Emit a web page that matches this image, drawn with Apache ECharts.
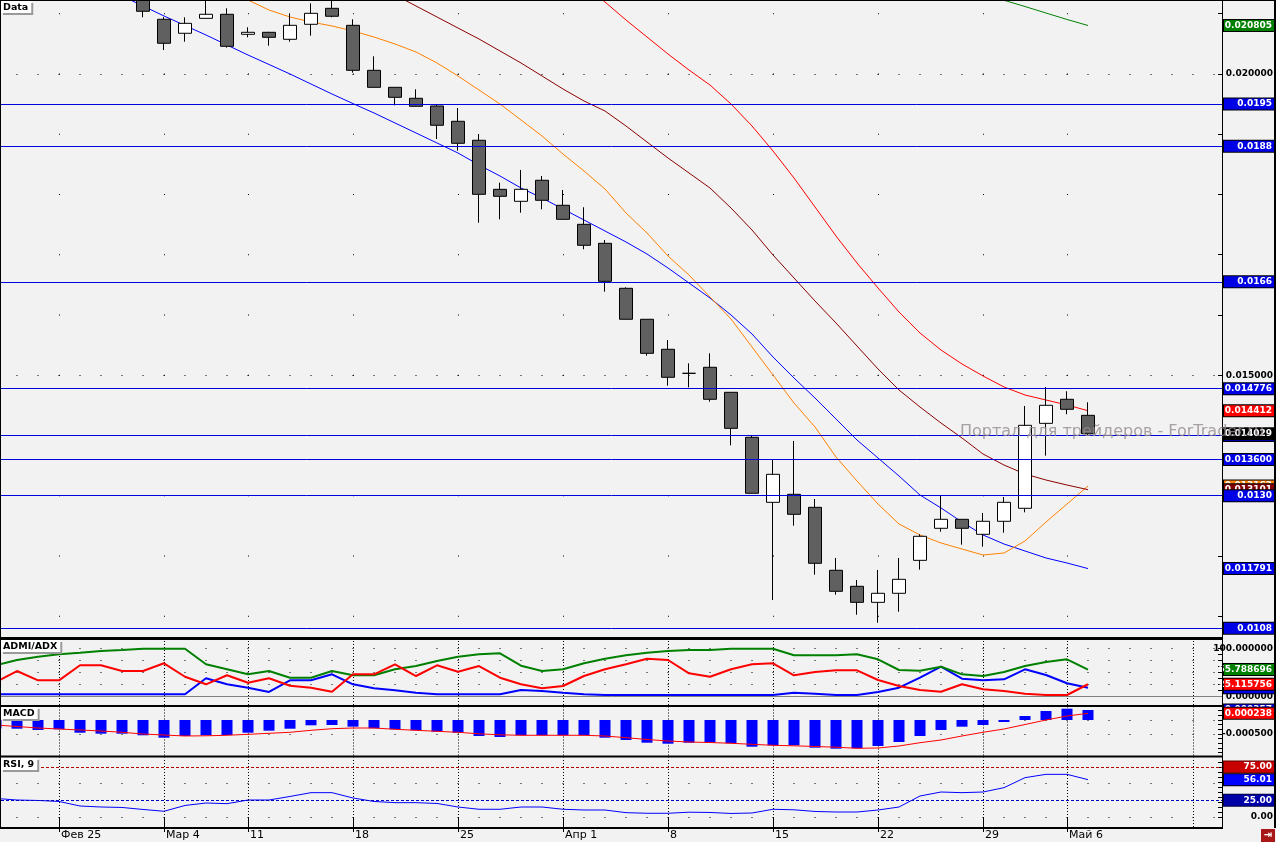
<!DOCTYPE html>
<html><head><meta charset="utf-8">
<script src="https://cdn.jsdelivr.net/npm/echarts@6/dist/echarts.min.js"></script>
<style>html,body{margin:0;padding:0;background:#f2f2f2}#c{width:1276px;height:842px}</style>
</head><body><div id="c"></div>
<script>
// ---------- DATA ----------
const dates = ['02-20','02-21','02-22','02-25','02-26','02-27','02-28','03-01','03-04','03-05','03-06','03-07','03-11','03-12','03-13','03-14','03-15','03-18','03-19','03-20','03-21','03-22','03-25','03-26','03-27','03-28','03-29','04-01','04-02','04-03','04-04','04-05','04-08','04-09','04-10','04-11','04-12','04-15','04-16','04-17','04-18','04-19','04-22','04-23','04-24','04-25','04-26','04-29','04-30','05-02','05-03','05-06','05-07'];
const tickDates = ['02-25','03-04','03-11','03-18','03-25','04-01','04-08','04-15','04-22','04-29','05-06'];
const tickLabels = ['Фев 25','Мар 4','11','18','25','Апр 1','8','15','22','29','Май 6'];

const open = [null,null,null,null,null,null,null,
0.021330,0.020908,0.020676,0.020924,0.020991,0.020659,0.020692,0.020576,0.020825,0.021090,
0.020808,0.020061,0.019779,0.019597,0.019469,0.019215,0.018900,0.018086,0.017887,0.018236,
0.017821,0.017505,0.017190,0.016443,0.015929,0.015431,0.015032,0.015132,0.014717,0.013970,
0.012891,0.013024,0.012808,0.011763,0.011497,0.011231,0.011381,0.011928,0.012460,0.012609,
0.012360,0.012576,0.012792,0.014202,0.014601,0.014335];
const close = [null,null,null,null,null,null,null,
0.021041,0.020510,0.020841,0.020991,0.020460,0.020692,0.020609,0.020808,0.021007,0.020958,
0.020061,0.019779,0.019613,0.019464,0.019149,0.018850,0.018003,0.017970,0.018086,0.017904,
0.017588,0.017157,0.016559,0.015929,0.015364,0.014966,0.015032,0.014601,0.014119,0.013041,
0.013356,0.012692,0.011879,0.011414,0.011231,0.011381,0.011613,0.012327,0.012609,0.012460,
0.012576,0.012891,0.014169,0.014501,0.014435,0.014029];
const low = [null,null,null,null,null,null,null,
0.020941,0.020398,0.020536,0.020921,0.020437,0.020609,0.020470,0.020536,0.020636,0.020941,
0.020022,0.019776,0.019480,0.019461,0.018921,0.018727,0.017532,0.017588,0.017698,0.017754,
0.017585,0.017090,0.016387,0.015925,0.015324,0.014827,0.014800,0.014561,0.013837,0.013037,
0.011270,0.012503,0.011690,0.011358,0.011026,0.010893,0.011075,0.011773,0.012403,0.012188,
0.012154,0.012387,0.012725,0.013665,0.014352,0.014010];
const high = [null,null,null,null,null,null,null,
0.021450,0.020946,0.020941,0.021278,0.021090,0.020775,0.020700,0.021007,0.021173,0.021261,
0.020908,0.020294,0.019779,0.019746,0.019485,0.019436,0.019004,0.018196,0.018407,0.018307,
0.018075,0.017788,0.017245,0.016460,0.015929,0.015585,0.015198,0.015364,0.014717,0.013992,
0.013593,0.013909,0.012946,0.011967,0.011602,0.011768,0.011967,0.012360,0.013007,0.012614,
0.012714,0.012979,0.014490,0.014805,0.014734,0.014551];

const maBlue = [null,null,null,null,null,null,
0.021295,0.021129,0.020963,0.020805,0.020647,0.020481,0.020315,0.020158,0.020000,0.019834,
0.019668,0.019509,0.019353,0.019187,0.019021,0.018855,0.018689,0.018490,0.018307,0.018108,
0.017942,0.017759,0.017577,0.017394,0.017212,0.017012,0.016780,0.016531,0.016282,0.016000,
0.015685,0.015303,0.014954,0.014622,0.014274,0.013925,0.013627,0.013328,0.013012,0.012797,
0.012564,0.012349,0.012199,0.012083,0.011967,0.011884,0.011791];
const maOrange = [null,null,null,null,null,null,null,null,null,null,null,
0.021344,0.021228,0.021062,0.020946,0.020863,0.020797,0.020714,0.020614,0.020498,0.020365,
0.020183,0.019967,0.019734,0.019502,0.019237,0.018971,0.018672,0.018390,0.018091,0.017693,
0.017361,0.016979,0.016664,0.016299,0.015934,0.015469,0.015004,0.014539,0.014141,0.013643,
0.013245,0.012863,0.012531,0.012349,0.012216,0.012116,0.012017,0.012050,0.012249,0.012564,
0.012863,0.013162];
const maDarkRed = [null,null,null,null,null,null,null,null,null,null,null,null,null,null,null,null,null,null,null,
0.021311,0.021129,0.020946,0.020763,0.020581,0.020382,0.020183,0.019967,0.019751,0.019552,
0.019386,0.019137,0.018871,0.018606,0.018357,0.018108,0.017776,0.017411,0.016996,0.016614,
0.016232,0.015867,0.015485,0.015104,0.014755,0.014473,0.014207,0.013958,0.013693,0.013510,
0.013361,0.013261,0.013178,0.013101];
const maRed = [null,null,null,null,null,null,null,null,null,null,null,null,null,null,null,null,null,null,null,null,null,null,null,null,null,null,null,null,
0.021477,0.021195,0.020896,0.020614,0.020332,0.020066,0.019817,0.019502,0.019137,0.018722,
0.018274,0.017793,0.017311,0.016863,0.016448,0.016050,0.015701,0.015419,0.015187,0.014988,
0.014805,0.014672,0.014589,0.014506,0.014412];
const maGreen = [null,null,null,null,null,null,null,null,null,null,null,null,null,null,null,null,null,null,null,null,null,null,null,null,null,null,null,null,null,null,null,null,null,null,null,null,null,null,null,null,null,null,null,null,null,null,null,
0.021328,0.021224,0.021120,0.021012,0.020905,0.020805];

const levelValues = [0.0195, 0.0188, 0.01655, 0.014776, 0.0140, 0.0136, 0.0130, 0.0108];
const levelLabels = ['0.0195','0.0188','0.0166','0.014776','0.0140','0.013600','0.0130','0.0108'];

const adxMain = [64.6,75.6,82.5,87.5,90.8,94.4,96.5,99.2,99.2,99.2,
66.7,56.3,45.8,52.7,38.8,38.8,52.7,43.8,43.8,56.3,
63.1,73.5,82.5,87.5,89.6,63.8,52.7,56.3,68.8,78.3,
85.4,90.8,94.4,96.5,96.5,99.2,99.2,99.2,85.4,85.4,
85.4,87.5,77.1,54.8,53.3,61.7,45.8,42.3,50.6,63.1,
71.5,77.1,55.788696];
const diMinus = [29.8,52.7,33.3,33.3,64.6,64.6,52.7,52.7,68.8,40.8,
25.0,43.8,28.3,37.5,22.0,17.9,9.6,45.8,45.8,66.7,
42.3,64.6,51.3,63.1,38.8,25.0,16.7,21.5,42.3,56.3,
66.7,78.3,75.6,47.9,40.8,56.3,66.7,68.8,43.8,50.6,
54.2,54.2,34.0,21.5,13.1,9.6,25.0,14.6,11.0,5.4,
2.7,2.7,25.115756];
const diPlus = [4.2,4.2,4.2,4.2,4.2,4.2,4.2,4.2,4.2,4.2,
37.5,25.0,17.9,9.0,33.3,33.3,45.8,25.0,16.7,12.5,
7.5,4.2,4.2,4.2,4.2,13.1,11.0,7.5,4.2,2.7,
2.7,2.7,2.7,2.7,2.7,2.7,2.7,2.7,7.5,5.4,
2.7,2.7,9.0,17.9,38.8,61.7,36.7,33.3,35.4,56.3,
44.4,27.1,17.9];

const macdHist = [-0.000300,-0.000311,-0.000357,-0.000332,-0.000454,-0.000489,-0.000489,-0.000546,-0.000632,-0.000571,
-0.000546,-0.000536,-0.000454,-0.000382,-0.000311,-0.000189,-0.000179,-0.000239,-0.000296,-0.000332,
-0.000368,-0.000418,-0.000454,-0.000571,-0.000607,-0.000546,-0.000546,-0.000546,-0.000546,-0.000632,
-0.000714,-0.000811,-0.000846,-0.000811,-0.000811,-0.000832,-0.000954,-0.000904,-0.000904,-0.000989,
-0.001025,-0.001011,-0.000929,-0.000786,-0.000571,-0.000357,-0.000239,-0.000179,-0.000071,0.000143,
0.000321,0.000404,0.000357];
const macdSignal = [-0.000179,-0.000232,-0.000286,-0.000321,-0.000357,-0.000393,-0.000439,-0.000500,-0.000536,-0.000571,
-0.000564,-0.000546,-0.000511,-0.000475,-0.000439,-0.000368,-0.000311,-0.000286,-0.000286,-0.000332,
-0.000368,-0.000404,-0.000439,-0.000493,-0.000529,-0.000546,-0.000546,-0.000546,-0.000546,-0.000571,
-0.000632,-0.000696,-0.000750,-0.000786,-0.000804,-0.000832,-0.000868,-0.000904,-0.000921,-0.000946,
-0.000971,-0.001011,-0.001000,-0.000929,-0.000811,-0.000714,-0.000571,-0.000439,-0.000321,-0.000161,
0.000000,0.000143,0.000238];

const rsi = [27.8,25.5,24.8,23.3,16.5,15.0,14.3,11.3,8.6,17.3,
21.0,20.0,25.5,25.5,30.8,36.5,36.5,28.5,23.3,21.5,
21.5,20.3,15.0,11.6,11.6,15.0,15.0,11.6,10.5,10.5,
6.5,5.6,5.6,7.2,6.8,5.3,6.0,11.6,10.8,8.3,
7.5,7.5,10.5,15.0,31.5,37.5,36.5,37.5,44.0,59.0,
64.0,64.0,56.01];
const rsiLevels = [75, 25];

// ---------- CHART ----------
const FONT = 'DejaVu Sans';
const X_MIN = 5 / 21, X_MAX = 1226 / 21;   // view window in bar-index units
const EXTRA_GRID_INDEX = 57;               // dotted separator in the empty right area
const mondayIdx = tickDates.map(d => dates.indexOf(d));
const tickText = {}; mondayIdx.forEach((i, k) => tickText[i] = tickLabels[k]);
const vGridIdx = mondayIdx.concat([EXTRA_GRID_INDEX]);

const last = a => a[a.length - 1];
const pairs = a => a.map((v, i) => v == null ? null : [i, v]).filter(Boolean);
const candles = open.map((o, i) => o == null ? null : [i, o, close[i], low[i], high[i]]).filter(Boolean);

function tagLabel(text, bg, border) {
  return { show: true, position: 'end', formatter: text, distance: 52, align: 'right', verticalAlign: 'middle',
    width: 46, padding: [1, 2, 0, 2], backgroundColor: bg, borderColor: border || '#000', borderWidth: 1,
    color: '#fff', fontSize: 9, fontWeight: 'bold', fontFamily: FONT, lineHeight: 10 };
}
function tagItem(value, text, bg, border) {
  return { yAxis: value, lineStyle: { color: 'rgba(0,0,0,0)', width: 0 }, label: tagLabel(text, bg, border) };
}
function markLines(z, data) {
  return { silent: true, symbol: ['none', 'none'], z, precision: 10, animation: false, data };
}
const dotRow = v => ({ yAxis: v, lineStyle: { color: '#000', width: 1, type: [1, 20], dashOffset: 5.5 }, label: { show: false } });
const dotCol = (i, pat, off) => ({ xAxis: i, lineStyle: { color: '#000', width: 1, type: pat, dashOffset: off }, label: { show: false } });

function maSeries(data, color, tagBg, z) {
  return { type: 'line', xAxisIndex: 0, yAxisIndex: 0, data: pairs(data), showSymbol: false, symbol: 'none', silent: true,
    lineStyle: { color, width: 1 }, z: 2, animation: false,
    markLine: markLines(z, [tagItem(last(data), last(data).toFixed(6), tagBg)]) };
}
function ghost(xi, yi, data, ml) {
  return { type: 'line', xAxisIndex: xi, yAxisIndex: yi, data: pairs(data), showSymbol: false, symbol: 'none', silent: true,
    lineStyle: { color: 'rgba(0,0,0,0)', width: 0 }, z: 1, animation: false, markLine: ml };
}
function indLine(xi, yi, data, color, width, tag, z) {
  return { type: 'line', xAxisIndex: xi, yAxisIndex: yi, data: pairs(data), showSymbol: false, symbol: 'none', silent: true,
    lineStyle: { color, width }, z: 2, animation: false,
    markLine: markLines(z, [tagItem(last(data), tag.text, tag.bg)]) };
}

const grids = [
  { left: 1, top: 1, width: 1221, height: 636 },
  { left: 1, top: 640, width: 1221, height: 65 },
  { left: 1, top: 707, width: 1221, height: 48.5 },
  { left: 1, top: 757.5, width: 1221, height: 69.5 }
].map(g => Object.assign(g, { containLabel: false, outerBoundsMode: 'none' }));

const xAxes = [0, 1, 2, 3].map(gi => ({
  type: 'value', gridIndex: gi, min: X_MIN, max: X_MAX, show: gi === 3,
  axisLine: { show: false }, splitLine: { show: false },
  axisTick: { show: gi === 3, customValues: mondayIdx, length: 15, lineStyle: { color: '#000', width: 1 } },
  axisLabel: { show: gi === 3, customValues: mondayIdx, formatter: v => tickText[Math.round(v)] || '',
    align: 'left', padding: [0, 0, 0, 2], margin: 3, fontSize: 11, fontFamily: FONT, color: '#000', hideOverlap: false }
}));

function yAx(gi, min, max, ticks, labels, fmt) {
  return { type: 'value', gridIndex: gi, position: 'right', min, max, scale: true,
    axisLine: { show: false }, splitLine: { show: false },
    axisTick: { show: true, inside: true, length: 4, customValues: ticks, lineStyle: { color: '#000' } },
    axisLabel: { show: true, customValues: labels, formatter: fmt, margin: 51, align: 'right', hideOverlap: false,
      fontSize: 9, fontWeight: 'bold', fontFamily: FONT, color: '#000' } };
}
const range = (a, b, s) => { const r = []; for (let k = a; k <= b; k++) r.push(+(k * s).toFixed(8)); return r; };
const yAxes = [
  yAx(0, 0.0106556, 0.0212116, range(11, 21, 0.001), [0.015, 0.020], v => v.toFixed(6)),
  yAx(1, -18.1, 117.3, range(0, 8, 12.5), [0, 100], v => v.toFixed(6)),
  yAx(2, -0.00126786, 0.00046429, range(-7, 2, 0.0005 / 3), [-0.0005], v => v.toFixed(6)),
  yAx(3, -15, 89.25, range(0, 11, 7.5), [0, 50], v => v.toFixed(2))
];

const BLUE_TAG = '#0000e6';
const series = [
  // main panel grid dots
  ghost(0, 0, close, markLines(1, [dotRow(0.020), dotRow(0.015)].concat(mondayIdx.map(i => dotCol(i, [1, 59.25], 40))))),
  maSeries(maBlue, '#0000ff', BLUE_TAG, 5),
  maSeries(maOrange, '#ff8000', '#ff8000', 4),
  maSeries(maDarkRed, '#8b0000', '#800000', 5),
  maSeries(maRed, '#ff0000', '#ff0000', 5),
  maSeries(maGreen, '#008000', '#008000', 5),
  { type: 'candlestick', xAxisIndex: 0, yAxisIndex: 0, layout: 'horizontal', encode: { x: 0, y: [1, 2, 3, 4] },
    data: candles, barWidth: 13, z: 3, silent: true, animation: false,
    itemStyle: { color: '#ffffff', color0: '#606060', borderColor: '#000', borderColor0: '#000', borderColorDoji: '#000', borderWidth: 1 } },
  // horizontal price levels
  ghost(0, 0, close, markLines(6, levelValues.map((v, k) => ({ yAxis: v, lineStyle: { color: '#0000dd', width: 1, type: 'solid' },
      label: tagLabel(levelLabels[k], BLUE_TAG, '#000') })))),
  // last close tag
  ghost(0, 0, close, markLines(7, [tagItem(last(close), last(close).toFixed(6), '#000', '#000')])),

  // ADMI/ADX
  ghost(1, 1, adxMain, markLines(1, [25, 50, 75, 100].map(dotRow)
    .concat([{ yAxis: 0, lineStyle: { color: '#808080', width: 1, type: 'solid' }, label: { show: false } }])
    .concat(vGridIdx.map(i => dotCol(i, [1, 2], 0))))),
  indLine(1, 1, diPlus, '#0000ff', 2, { text: last(diPlus).toFixed(6), bg: BLUE_TAG }, 4),
  indLine(1, 1, adxMain, '#008000', 2, { text: last(adxMain).toFixed(6), bg: '#008000' }, 5),
  indLine(1, 1, diMinus, '#ff0000', 2, { text: last(diMinus).toFixed(6), bg: '#ff0000' }, 6),

  // MACD
  ghost(2, 2, macdSignal, markLines(1, [0, -0.0005].map(dotRow).concat(vGridIdx.map(i => dotCol(i, [1, 2], 0))))),
  { type: 'bar', xAxisIndex: 2, yAxisIndex: 2, data: pairs(macdHist), barWidth: 11, silent: true, animation: false, z: 2,
    itemStyle: { color: '#0000ff' },
    markLine: markLines(4, [tagItem(last(macdHist), last(macdHist).toFixed(6), BLUE_TAG)]) },
  indLine(2, 2, macdSignal, '#ff0000', 1, { text: last(macdSignal).toFixed(6), bg: '#ff0000' }, 5),

  // RSI
  ghost(3, 3, rsi, markLines(4, [50, 0].map(dotRow).concat(vGridIdx.map(i => dotCol(i, [1, 2], 0))).concat([
    { yAxis: rsiLevels[0], lineStyle: { color: '#b00000', width: 1, type: [3, 2] }, label: tagLabel(rsiLevels[0].toFixed(2), '#c80000', '#600000') },
    { yAxis: rsiLevels[1], lineStyle: { color: '#0000c0', width: 1, type: [3, 2] }, label: tagLabel(rsiLevels[1].toFixed(2), '#0000a8', '#000040') }
  ]))),
  indLine(3, 3, rsi, '#0000ff', 1, { text: last(rsi).toFixed(2), bg: '#0000ff' }, 5)
];

const titleBox = (text, top) => ({ text, left: 1, top, padding: [1, 3, 0, 2], backgroundColor: '#ffffff',
  shadowColor: '#9a9a9a', shadowOffsetX: 2, shadowOffsetY: 2, shadowBlur: 0, itemGap: 0,
  textStyle: { fontSize: 9.5, fontWeight: 'bold', fontFamily: FONT, color: '#000', lineHeight: 11 } });

const frame = (x, y, w, h, fill) => ({ type: 'rect', silent: true, z: 50, shape: { x, y, width: w, height: h }, style: { fill: fill || '#000' } });

const option = {
  animation: false,
  backgroundColor: '#f2f2f2',
  textStyle: { fontFamily: FONT },
  title: [titleBox('Data', 1), titleBox('ADMI/ADX', 640), titleBox('MACD', 707), titleBox('RSI, 9', 758)],
  grid: grids, xAxis: xAxes, yAxis: yAxes, series,
  graphic: { elements: [
    frame(0, 0, 1276, 1), frame(0, 0, 1, 829), frame(1222, 0, 1, 829), frame(1274, 0, 2, 828),
    frame(0, 637, 1223, 3), frame(0, 705, 1223, 2), frame(0, 755.5, 1223, 2), frame(0, 827, 1223, 2),
    { type: 'text', x: 960, y: 432, z: 60, zlevel: 1, silent: true,
      style: { text: 'Портал для трейдеров - ForTrader.ru', font: '16px "DejaVu Sans"', fill: 'rgba(150,140,140,0.8)', verticalAlign: 'middle' } },
    frame(1261, 829, 14, 13, '#a81818'),
    { type: 'text', x: 1268, y: 835.5, z: 60, silent: true,
      style: { text: '⇥', font: 'bold 10px "DejaVu Sans"', fill: '#fff', align: 'center', verticalAlign: 'middle' } }
  ] }
};
const chart = echarts.init(document.getElementById('c'), null, { renderer: 'canvas' });
chart.setOption(option);
</script>
</body></html>
